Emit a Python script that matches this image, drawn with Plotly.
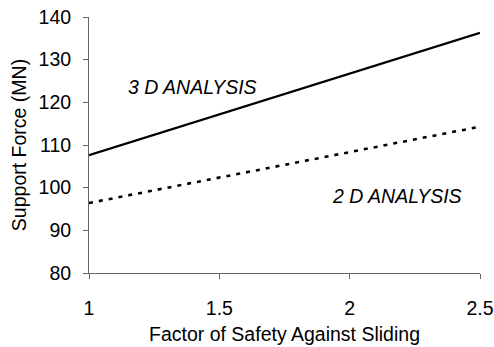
import plotly.graph_objects as go

x_fs = [1.0, 2.5]
support_3d = [107.6, 136.3]
support_2d = [96.4, 114.3]
x_ticks = [1, 1.5, 2, 2.5]
x_tick_text = ["1", "1.5", "2", "2.5"]
y_ticks = [80, 90, 100, 110, 120, 130, 140]

FONT = "Liberation Sans, Arial, sans-serif"

fig = go.Figure()
fig.add_trace(go.Scatter(x=x_fs, y=support_3d, mode="lines",
                         line=dict(color="black", width=2.2), showlegend=False))
fig.add_trace(go.Scatter(x=x_fs, y=support_2d, mode="lines",
                         line=dict(color="black", width=2.6, dash="4px,6px"), showlegend=False))

fig.add_annotation(x=1.396, y=123.5, text="<i>3 D ANALYSIS</i>", showarrow=False,
                   font=dict(family=FONT, size=19.5, color="black"))
fig.add_annotation(x=2.18, y=98, text="<i>2 D ANALYSIS</i>", showarrow=False,
                   font=dict(family=FONT, size=19.5, color="black"))

fig.update_layout(
    width=494, height=347,
    margin=dict(l=89, r=14, t=17, b=74),
    paper_bgcolor="white", plot_bgcolor="white",
    font=dict(family=FONT, size=19.5, color="black"),
    xaxis=dict(range=[1, 2.5], tickvals=x_ticks, ticktext=x_tick_text,
               automargin=False,
               showgrid=False, zeroline=False, showline=True, linecolor="#666",
               linewidth=1, ticks="outside", ticklen=5, tickcolor="#666",
               ticklabelstandoff=13,
               title=dict(text="Factor of Safety Against Sliding", standoff=8,
                          font=dict(size=19.5))),
    yaxis=dict(range=[80, 140], tickvals=y_ticks,
               automargin=False,
               showgrid=False, zeroline=False, showline=True, linecolor="#666",
               linewidth=1, ticks="outside", ticklen=5, tickcolor="#666",
               ticklabelstandoff=8,
               title=dict(text="Support Force (MN)", standoff=6,
                          font=dict(size=19.5))),
)

fig.write_html("out.html")
